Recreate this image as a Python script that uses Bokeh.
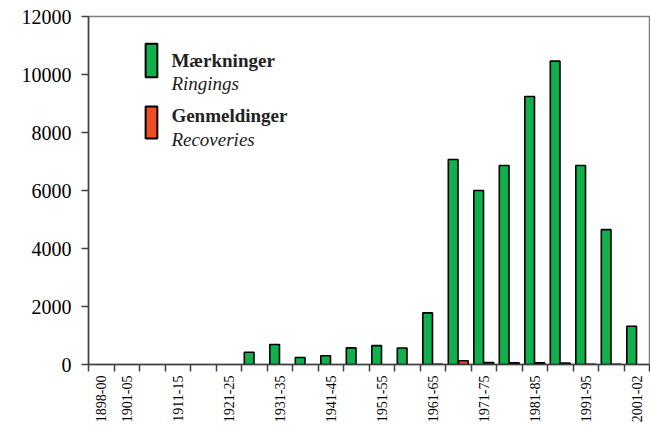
import numpy as np
import pandas as pd
from bokeh.plotting import figure
from bokeh.models import ColumnDataSource, FixedTicker, Range1d, BoxAnnotation, Label
from bokeh.transform import dodge
from bokeh.embed import file_html
from bokeh.resources import INLINE

periods = ["1898-00", "1901-05", "1906-10", "1911-15", "1916-20", "1921-25",
           "1926-30", "1931-35", "1936-40", "1941-45", "1946-50", "1951-55",
           "1956-60", "1961-65", "1966-70", "1971-75", "1976-80", "1981-85",
           "1986-90", "1991-95", "1996-00", "2001-02"]
ringings = [0, 0, 0, 0, 0, 0, 420, 690, 240, 300, 575, 650,
            570, 1780, 7070, 6000, 6860, 9240, 10460, 6860, 4650, 1320]
recoveries = [0, 0, 0, 0, 0, 0, 0, 0, 0, 0, 0, 0,
              0, 10, 130, 65, 55, 55, 50, 10, 5, 0]
shown_labels = ["1898-00", "1901-05", "1911-15", "1921-25", "1931-35", "1941-45",
                "1951-55", "1961-65", "1971-75", "1981-85", "1991-95", "2001-02"]
y_ticks = [0, 2000, 4000, 6000, 8000, 10000, 12000]

GREEN = "#12b04d"
RED = "#ee4e26"
FONT = "Liberation Serif"

df = pd.DataFrame({"period": periods, "ring": ringings, "rec": recoveries})
df["x"] = np.arange(len(periods)) + 0.5
src_g = ColumnDataSource(df[df["ring"] > 0])
src_r = ColumnDataSource(df[df["rec"] > 0])

p = figure(width=650, height=426, output_backend="svg", toolbar_location=None,
           x_range=Range1d(0, len(periods)), y_range=Range1d(0, 12000),
           min_border_left=88, min_border_top=16, min_border_right=1, min_border_bottom=62)
p.background_fill_color = "white"
p.border_fill_color = "white"
p.outline_line_color = "#808080"
p.outline_line_width = 1.5
p.grid.visible = False

p.vbar(x=dodge("x", -0.2, range=p.x_range), top="ring", width=0.38, source=src_g,
       fill_color=GREEN, line_color="black", line_width=1.6)
p.vbar(x=dodge("x", 0.2, range=p.x_range), top="rec", width=0.38, source=src_r,
       fill_color=RED, line_color="black", line_width=1.6)

# x axis: labels at category centres, tick marks at category boundaries
label_pos = [periods.index(l) + 0.5 for l in shown_labels]
p.xaxis.ticker = FixedTicker(ticks=label_pos, minor_ticks=list(range(len(periods) + 1)))
p.xaxis.major_label_overrides = {pos: lab for pos, lab in zip(label_pos, shown_labels)}
p.xaxis.major_label_orientation = np.pi / 2
p.xaxis.major_tick_line_color = None
p.xaxis.major_tick_out = 7
p.xaxis.major_tick_in = 0
p.xaxis.minor_tick_out = 7
p.xaxis.minor_tick_in = 0
p.xaxis.minor_tick_line_color = "#404040"
p.xaxis.minor_tick_line_width = 1.5
p.xaxis.major_label_standoff = 4
p.xaxis.major_label_text_font = FONT
p.xaxis.major_label_text_font_size = "14px"
p.xaxis.major_label_text_color = "black"

p.yaxis.ticker = FixedTicker(ticks=y_ticks, minor_ticks=[])
p.yaxis.major_tick_out = 7
p.yaxis.major_tick_in = 0
p.yaxis.major_tick_line_color = "#404040"
p.yaxis.major_tick_line_width = 1.5
p.yaxis.major_label_standoff = 10
p.yaxis.major_label_text_font = FONT
p.yaxis.major_label_text_font_size = "20px"
p.yaxis.major_label_text_color = "black"

for ax in (p.xaxis, p.yaxis):
    ax.axis_line_color = "#404040"
    ax.axis_line_width = 1.5

# legend
p.add_layout(BoxAnnotation(left=2.24, right=2.70, top=11057, bottom=9908,
                           fill_color=GREEN, fill_alpha=1, line_color="black",
                           line_alpha=1, line_width=2))
p.add_layout(BoxAnnotation(left=2.24, right=2.70, top=8897, bottom=7793,
                           fill_color=RED, fill_alpha=1, line_color="black",
                           line_alpha=1, line_width=2))
legend_texts = [("Mærkninger", "bold", 10483), ("Ringings", "italic", 9690),
                ("Genmeldinger", "bold", 8586), ("Recoveries", "italic", 7759)]
for txt, style, yy in legend_texts:
    p.add_layout(Label(x=3.25, y=yy, text=txt, text_font=FONT, text_font_style=style,
                       text_font_size="19px", text_color="#222222",
                       text_baseline="alphabetic", text_align="left"))

open("out.html", "w").write(file_html(p, INLINE))
